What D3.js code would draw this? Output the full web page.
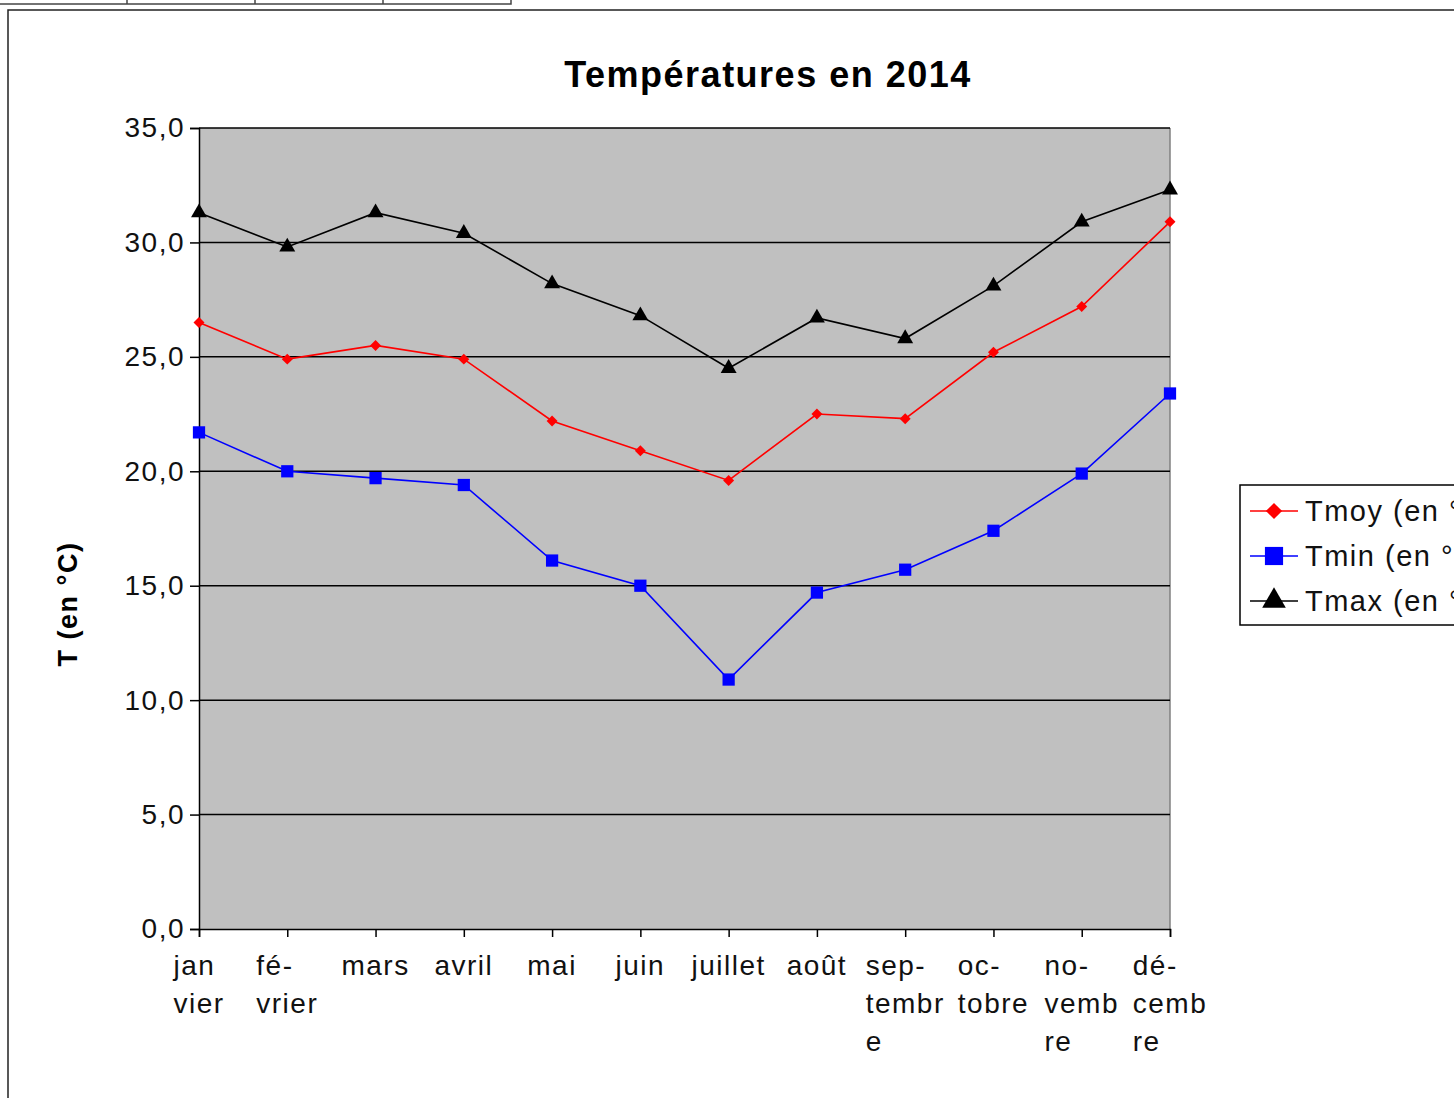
<!DOCTYPE html>
<html>
<head>
<meta charset="utf-8">
<script src="https://cdn.jsdelivr.net/npm/d3@7"></script>
<style>
  body { margin: 0; background: #fff; }
  text { font-family: "Liberation Sans", Arial, sans-serif; letter-spacing: 1.5px; }
</style>
</head>
<body>
<div id="chart"></div>
<script>
const months = ["jan\nvier", "fé-\nvrier", "mars", "avril", "mai", "juin", "juillet", "août",
  "sep-\ntembr\ne", "oc-\ntobre", "no-\nvemb\nre", "dé-\ncemb\nre"];
const tmoy = [26.5, 24.9, 25.5, 24.9, 22.2, 20.9, 19.6, 22.5, 22.3, 25.2, 27.2, 30.9];
const tmin = [21.7, 20.0, 19.7, 19.4, 16.1, 15.0, 10.9, 14.7, 15.7, 17.4, 19.9, 23.4];
const tmax = [31.3, 29.8, 31.3, 30.4, 28.2, 26.8, 24.5, 26.7, 25.8, 28.1, 30.9, 32.3];
const yTicks = [0, 5, 10, 15, 20, 25, 30, 35];
const seriesNames = ["Tmoy  (en °C)", "Tmin (en °C)", "Tmax (en °C)"];

let width = 1454, height = 1098;
let svg = d3.select('#chart')
  .append('svg')
    .attr('width', width)
    .attr('height', height);

// sheet cells at top and chart frame
svg.append('rect')
  .attr('x', -2).attr('y', -10).attr('width', 513).attr('height', 14)
  .attr('fill', 'none').attr('stroke', '#444').attr('stroke-width', 1.5);
[127, 255, 383].forEach(x => {
  svg.append('line').attr('x1', x).attr('x2', x).attr('y1', 0).attr('y2', 4)
    .attr('stroke', '#444').attr('stroke-width', 1.5);
});
svg.append('rect')
  .attr('x', 8).attr('y', 10).attr('width', 1500).attr('height', 1200)
  .attr('fill', 'none').attr('stroke', '#222').attr('stroke-width', 1.5);

let x = d3.scalePoint()
  .domain(d3.range(months.length))
  .range([199, 1170])
  .padding(0);
let y = d3.scaleLinear()
  .domain([0, 35])
  .range([929, 128]);

// plot area
svg.append('rect')
  .attr('x', x(0)).attr('y', y(35))
  .attr('width', x(11) - x(0)).attr('height', y(0) - y(35))
  .attr('fill', '#c0c0c0');
svg.append('line')
  .attr('x1', x(11)).attr('x2', x(11)).attr('y1', y(35)).attr('y2', y(0))
  .attr('stroke', '#808080').attr('stroke-width', 1.5);

// grid lines
svg.selectAll('.grid')
  .data(yTicks.filter(d => d > 0))
  .enter()
  .append('line')
    .attr('class', 'grid')
    .attr('x1', x(0)).attr('x2', x(11))
    .attr('y1', d => y(d)).attr('y2', d => y(d))
    .attr('stroke', '#000').attr('stroke-width', 1.5);

// y axis
let yAxis = svg.append('g')
  .attr('transform', `translate(${x(0)},0)`)
  .call(d3.axisLeft(y).tickValues(yTicks).tickSize(9).tickPadding(5)
    .tickFormat(d => d3.format('.1f')(d).replace('.', ',')));
yAxis.select('.domain').attr('stroke', '#000').attr('stroke-width', 1.5);
yAxis.selectAll('.tick line').attr('stroke', '#000').attr('stroke-width', 1.5);
yAxis.selectAll('.tick text')
  .attr('fill', '#111')
  .style('font-size', '28px')
  .style('font-family', '"Liberation Sans", Arial, sans-serif');

// x axis
let xAxis = svg.append('g')
  .attr('transform', `translate(0,${y(0)})`)
  .call(d3.axisBottom(x).tickSize(8).tickFormat(''));
xAxis.select('.domain').attr('stroke', '#000').attr('stroke-width', 1.5);
xAxis.selectAll('.tick line').attr('stroke', '#000').attr('stroke-width', 1.5);

// wrapped month labels, lines left aligned in a block centred on the tick
months.forEach((m, i) => {
  let t = svg.append('text')
    .attr('y', 975)
    .attr('fill', '#111')
    .style('font-size', '28px');
  let lines = m.split('\n');
  lines.forEach((l, j) => {
    t.append('tspan').attr('dy', j === 0 ? 0 : 38).text(l);
  });
  let w = d3.max(t.selectAll('tspan').nodes(), n => n.getComputedTextLength());
  t.selectAll('tspan').attr('x', x(i) - w / 2);
});

// title and y label
svg.append('text')
  .attr('x', 768).attr('y', 87)
  .attr('text-anchor', 'middle')
  .style('font-size', '36px').style('font-weight', 'bold')
  .text('Températures en 2014');
svg.append('text')
  .attr('transform', 'translate(77,604) rotate(-90)')
  .attr('text-anchor', 'middle')
  .style('font-size', '27px').style('font-weight', 'bold')
  .text('T (en °C)');

// series
const series = [
  { name: seriesNames[0], values: tmoy, color: '#ff0000', symbol: d3.symbolSquare, size: 60, rot: 45 },
  { name: seriesNames[1], values: tmin, color: '#0000ff', symbol: d3.symbolSquare, size: 150, rot: 0 },
  { name: seriesNames[2], values: tmax, color: '#000000', symbol: d3.symbolTriangle, size: 110, rot: 0 }
];

let line = d3.line()
  .x((d, i) => x(i))
  .y(d => y(d));

series.forEach(s => {
  svg.append('path')
    .datum(s.values)
    .attr('d', line)
    .attr('fill', 'none')
    .attr('stroke', s.color)
    .attr('stroke-width', 1.6);
  svg.selectAll(null)
    .data(s.values)
    .enter()
    .append('path')
      .attr('d', d3.symbol().type(s.symbol).size(s.size))
      .attr('transform', (d, i) => `translate(${x(i)},${y(d)}) rotate(${s.rot})`)
      .attr('fill', s.color);
});

// legend
let legend = svg.append('g');
legend.append('rect')
  .attr('x', 1240).attr('y', 485).attr('width', 300).attr('height', 140)
  .attr('fill', '#fff').attr('stroke', '#000').attr('stroke-width', 1.5);
series.forEach((s, i) => {
  let ly = 511 + i * 45;
  legend.append('line')
    .attr('x1', 1250).attr('x2', 1298).attr('y1', ly).attr('y2', ly)
    .attr('stroke', s.color).attr('stroke-width', 1.6);
  legend.append('path')
    .attr('d', d3.symbol().type(s.symbol).size(s.size * 2.2))
    .attr('transform', `translate(1274,${ly}) rotate(${s.rot})`)
    .attr('fill', s.color);
  legend.append('text')
    .attr('x', 1305).attr('y', ly + 10)
    .attr('fill', '#111')
    .style('font-size', '29px')
    .text(s.name);
});
</script>
</body>
</html>
